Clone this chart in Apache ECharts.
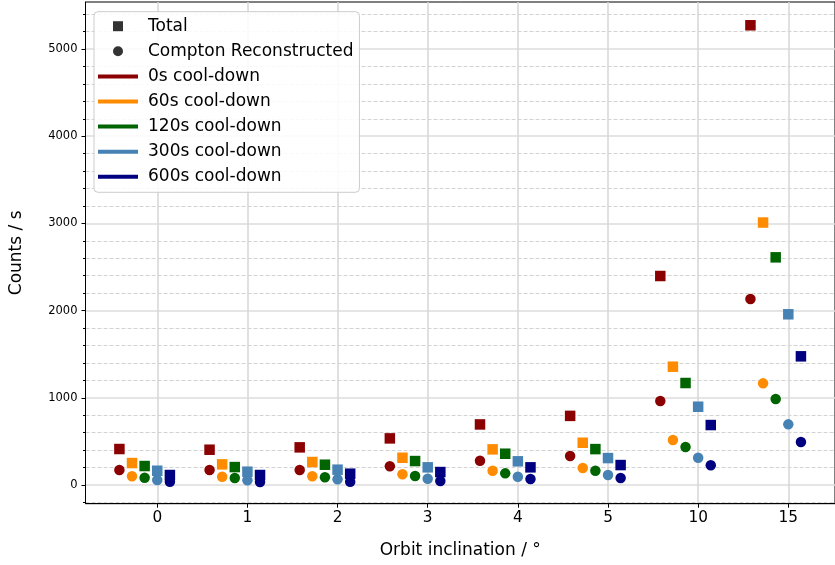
<!DOCTYPE html>
<html>
<head>
<meta charset="utf-8">
<script src="https://cdn.jsdelivr.net/npm/echarts@6/dist/echarts.min.js"></script>
<style>html,body{margin:0;padding:0;background:#fff}#c{width:835px;height:565px}</style>
</head>
<body>
<div id="c"></div>
<script>
const categories = ['0', '1', '2', '3', '4', '5', '10', '15'];
const coolDowns = ['0s', '60s', '120s', '300s', '600s'];
const colors = ['#8B0000', '#FF8C00', '#006400', '#4682B4', '#000080'];
const offsets = [-0.42, -0.28, -0.14, 0, 0.14];

const total0 = [413, 405, 432, 535, 695, 793, 2397, 5272];
const total60 = [252, 237, 264, 313, 409, 485, 1357, 3010];
const total120 = [218, 206, 233, 275, 359, 412, 1170, 2611];
const total300 = [164, 153, 176, 203, 272, 309, 898, 1958];
const total600 = [115, 115, 130, 149, 203, 229, 688, 1476];

const compton0 = [172, 172, 172, 215, 279, 332, 963, 2133];
const compton60 = [100, 96, 100, 123, 164, 195, 516, 1166];
const compton120 = [84, 81, 89, 104, 134, 164, 436, 986];
const compton300 = [57, 54, 66, 73, 96, 115, 313, 696];
const compton600 = [38, 35, 38, 46, 69, 81, 226, 493];

const yMajorTicks = [0, 1000, 2000, 3000, 4000, 5000];
const yMinorTicks = [-200, 200, 400, 600, 800, 1200, 1400, 1600, 1800, 2200, 2400, 2600, 2800, 3200, 3400, 3600, 3800, 4200, 4400, 4600, 4800, 5200, 5400];

const totals = [total0, total60, total120, total300, total600];
const comptons = [compton0, compton60, compton120, compton300, compton600];

const FONT = 'DejaVu Sans';
const catIdx = categories.map((c, i) => i);

const series = [];
coolDowns.forEach((cd, k) => {
  series.push({
    name: cd + ' Total', type: 'scatter', symbol: 'rect', symbolSize: 10.5,
    itemStyle: { color: colors[k], opacity: 1 },
    data: totals[k].map((v, i) => [i + offsets[k], v]), z: 3
  });
  series.push({
    name: cd + ' Compton', type: 'scatter', symbol: 'circle', symbolSize: 10.5,
    itemStyle: { color: colors[k], opacity: 1 },
    data: comptons[k].map((v, i) => [i + offsets[k], v]), z: 3
  });
});
series.push({ name: 'Total', type: 'scatter', data: [], itemStyle: { color: '#000' } });
series.push({ name: 'Compton Reconstructed', type: 'scatter', data: [], itemStyle: { color: '#000' } });
coolDowns.forEach((cd, k) => {
  series.push({ name: cd + ' cool-down', type: 'line', data: [], itemStyle: { color: colors[k] }, lineStyle: { color: colors[k] } });
});

const sq = 'path://M0,0h10v10h-10z';
const ln = 'path://M0,0h40v4h-40z';
const legendData = [{ name: 'Total', icon: sq }, { name: 'Compton Reconstructed', icon: 'circle' }]
  .concat(coolDowns.map(cd => ({ name: cd + ' cool-down', icon: ln })));

const chart = echarts.init(document.getElementById('c'), null, { renderer: 'canvas' });
chart.setOption({
  animation: false,
  backgroundColor: '#fff',
  textStyle: { fontFamily: FONT },
  grid: { left: 85.5, top: 2, width: 757, height: 501.7, show: true, borderColor: '#000', borderWidth: 1, backgroundColor: 'transparent' },
  legend: {
    data: legendData, orient: 'vertical', left: 94, top: 11.7,
    itemWidth: 40, itemHeight: 10, itemGap: 8.1,
    padding: [6, 6, 7, 4],
    backgroundColor: 'rgba(255,255,255,0.85)', borderColor: '#ccc', borderWidth: 1, borderRadius: 4,
    textStyle: { fontFamily: FONT, fontSize: 17, color: '#000', lineHeight: 16, padding: [0, 0, 0, 5] },
    selectedMode: false
  },
  xAxis: {
    type: 'value', min: -0.796, max: 7.518,
    name: 'Orbit inclination / °', nameLocation: 'middle', nameGap: 38,
    nameTextStyle: { fontFamily: FONT, fontSize: 17, color: '#000' },
    axisLine: { show: true, onZero: false, lineStyle: { color: '#000', width: 1 } },
    axisTick: { show: true, length: 4, inside: false, customValues: catIdx, lineStyle: { color: '#000' } },
    axisLabel: { customValues: catIdx, margin: 7, fontFamily: FONT, fontSize: 15.3, color: '#000', formatter: v => categories[Math.round(v)] },
    splitLine: { show: true, lineStyle: { color: '#d6d6d6', width: 1.5 } }
  },
  yAxis: [{
    type: 'value', min: -214, max: 5539,
    name: 'Counts / s', nameLocation: 'middle', nameGap: 60, nameRotate: 90,
    nameTextStyle: { fontFamily: FONT, fontSize: 17, color: '#000' },
    axisLine: { show: true, onZero: false, lineStyle: { color: '#000', width: 1 } },
    axisTick: { show: true, length: 4, customValues: yMajorTicks, lineStyle: { color: '#000' } },
    axisLabel: { customValues: yMajorTicks, margin: 8, fontFamily: FONT, fontSize: 11.5, color: '#000', formatter: v => String(v) },
    splitLine: { show: true, lineStyle: { color: '#dcdcdc', width: 1.5 } }
  }, {
    type: 'value', min: -214, max: 5539, position: 'left', offset: 0,
    axisLine: { show: false, onZero: false },
    axisTick: { show: true, length: 2.5, customValues: yMinorTicks, lineStyle: { color: '#000' } },
    axisLabel: { show: false, customValues: yMinorTicks },
    splitLine: { show: true, lineStyle: { color: '#d3d3d3', width: 1, type: [4, 2] } }
  }],
  series: series
});
</script>
</body>
</html>
